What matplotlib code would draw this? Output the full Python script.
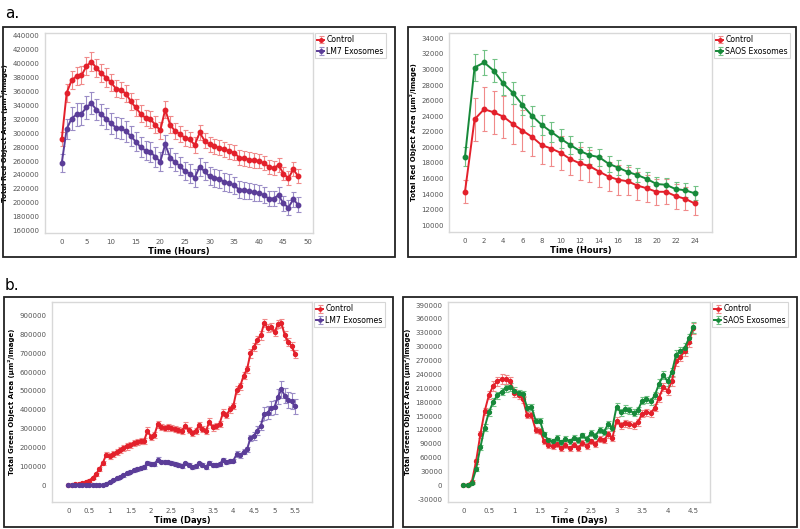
import matplotlib
matplotlib.use("Agg")
import matplotlib.pyplot as plt
import numpy as np
from matplotlib.patches import Rectangle

# ---- panel a, left: red object area, LM7 exosomes (hourly, 0-48 h)
hours_48 = list(range(49))
a1_control = [291000, 358000, 376000, 382000, 383000, 396000, 403000, 394000, 386000, 380000,
              373000, 364000, 362000, 357000, 346000, 337000, 328000, 322000, 320000, 312000,
              304000, 334000, 312000, 303000, 299000, 293000, 291000, 283000, 301000, 289000,
              284000, 281000, 279000, 277000, 274000, 272000, 265000, 264000, 262000, 261000,
              260000, 257000, 252000, 250000, 254000, 242000, 235000, 248000, 238000]
a1_control_err = [10000, 13000, 13000, 13000, 13000, 13000, 13000, 13000, 13000, 13000,
                  12000, 12000, 12000, 12000, 12000, 12000, 12000, 12000, 12000, 12000,
                  12000, 12000, 12000, 12000, 11000, 11000, 11000, 11000, 11000, 11000,
                  11000, 11000, 11000, 11000, 11000, 11000, 11000, 11000, 11000, 11000,
                  10000, 10000, 10000, 10000, 10000, 10000, 10000, 10000, 10000]
a1_lm7 = [257000, 306000, 321000, 327000, 328000, 337000, 343000, 334000, 327000, 321000,
          314000, 308000, 307000, 303000, 296000, 288000, 280000, 275000, 273000, 266000,
          259000, 284000, 265000, 258000, 253000, 245000, 242000, 236000, 252000, 245000,
          238000, 236000, 234000, 230000, 228000, 225000, 219000, 218000, 217000, 215000,
          214000, 211000, 206000, 206000, 211000, 199000, 193000, 205000, 197000]
a1_lm7_err = [13000, 15000, 16000, 16000, 16000, 16000, 16000, 15000, 15000, 15000,
              15000, 15000, 15000, 15000, 14000, 14000, 14000, 14000, 14000, 14000,
              14000, 14000, 13000, 13000, 13000, 13000, 13000, 13000, 13000, 13000,
              13000, 13000, 13000, 13000, 13000, 12000, 12000, 12000, 12000, 12000,
              12000, 12000, 11000, 11000, 11000, 11000, 11000, 11000, 11000]

# ---- panel a, right: red object area, SAOS exosomes (hourly, 0-24 h)
hours_24 = list(range(25))
a2_control = [14300, 23600, 24900, 24500, 23950, 23000, 22150, 21350, 20300, 19850,
              19300, 18500, 17950, 17600, 16900, 16250, 15850, 15650, 15100, 14750,
              14300, 14300, 13750, 13400, 12800]
a2_control_err = [1500, 2800, 2800, 2800, 2700, 2600, 2600, 2500, 2400, 2300,
                  2200, 2100, 2100, 2000, 2000, 1900, 1900, 1800, 1800, 1700,
                  1700, 1600, 1600, 1500, 1500]
a2_saos = [18800, 30250, 30900, 29850, 28200, 27000, 25450, 24050, 22900, 22000,
           21100, 20300, 19550, 19000, 18750, 17900, 17400, 16850, 16450, 15950,
           15300, 15200, 14650, 14500, 14100]
a2_saos_err = [1200, 1700, 1600, 1500, 1500, 1400, 1300, 1300, 1300, 1300,
               1200, 1200, 1100, 1100, 1100, 1000, 1000, 900, 900, 900,
               900, 900, 900, 900, 900]

# ---- panel b, left: green object area, LM7 exosomes (every 2 h, 0-5.5 days)
days_55 = [i / 12 for i in range(67)]
b1_control = [0, 2000, 4000, 7000, 9000, 14000, 24000, 38000, 58000, 85000,
              118000, 162000, 155000, 165000, 175000, 186000, 196000, 205000, 213000, 221000,
              229000, 236000, 234000, 288000, 258000, 266000, 323000, 308000, 305000, 306000,
              303000, 296000, 292000, 288000, 316000, 292000, 276000, 286000, 318000, 296000,
              286000, 336000, 306000, 316000, 326000, 384000, 372000, 402000, 420000, 506000,
              525000, 582000, 615000, 700000, 732000, 772000, 795000, 862000, 835000, 840000,
              812000, 855000, 862000, 795000, 762000, 738000, 695000]
b1_control_err = [3000, 3000, 3000, 4000, 4000, 5000, 6000, 7000, 8000, 10000,
                  12000, 14000, 14000, 14000, 15000, 15000, 15000, 16000, 16000, 16000,
                  16000, 16000, 16000, 18000, 16000, 16000, 18000, 16000, 16000, 16000,
                  16000, 16000, 16000, 16000, 18000, 16000, 16000, 16000, 18000, 16000,
                  16000, 18000, 16000, 16000, 16000, 18000, 16000, 18000, 18000, 20000,
                  20000, 20000, 20000, 22000, 22000, 22000, 22000, 22000, 20000, 20000,
                  20000, 22000, 22000, 22000, 22000, 22000, 22000]
b1_lm7 = [0, 1000, 2000, 2000, 3000, 3000, 3000, 2000, 1000, 1000,
          2000, 8000, 18000, 27000, 35000, 43000, 52000, 62000, 70000, 78000,
          86000, 92000, 95000, 118000, 110000, 112000, 135000, 125000, 123000, 120000,
          116000, 112000, 107000, 103000, 115000, 105000, 97000, 100000, 115000, 105000,
          97000, 117000, 106000, 108000, 112000, 133000, 124000, 128000, 130000, 165000,
          158000, 178000, 190000, 250000, 262000, 290000, 315000, 380000, 385000, 410000,
          415000, 470000, 508000, 475000, 450000, 445000, 420000]
b1_lm7_err = [3000, 3000, 3000, 3000, 3000, 3000, 3000, 3000, 3000, 3000,
              3000, 4000, 5000, 5000, 6000, 6000, 7000, 7000, 8000, 8000,
              9000, 9000, 10000, 12000, 10000, 10000, 12000, 10000, 10000, 10000,
              10000, 10000, 10000, 10000, 10000, 10000, 10000, 10000, 10000, 10000,
              10000, 10000, 10000, 10000, 10000, 12000, 10000, 10000, 10000, 14000,
              12000, 14000, 14000, 18000, 20000, 22000, 24000, 36000, 36000, 36000,
              36000, 40000, 45000, 40000, 42000, 42000, 40000]

# ---- panel b, right: green object area, SAOS exosomes (every 2 h, 0-4.5 days)
days_45 = [i / 12 for i in range(55)]
b2_control = [0, 1000, 8000, 52000, 110000, 160000, 195000, 215000, 225000, 230000,
              229000, 225000, 200000, 195000, 186000, 152000, 152000, 120000, 118000, 95000,
              87000, 85000, 90000, 80000, 87000, 80000, 88000, 81000, 92000, 85000,
              95000, 90000, 100000, 97000, 110000, 102000, 140000, 130000, 134000, 132000,
              130000, 136000, 155000, 158000, 156000, 168000, 190000, 213000, 205000, 225000,
              268000, 278000, 290000, 310000, 340000]
b2_control_err = [2000, 2000, 3000, 5000, 7000, 8000, 9000, 10000, 10000, 10000,
                  10000, 9000, 8000, 8000, 8000, 7000, 7000, 7000, 7000, 6000,
                  6000, 6000, 6000, 6000, 6000, 6000, 6000, 6000, 6000, 6000,
                  6000, 6000, 6000, 6000, 7000, 7000, 8000, 8000, 8000, 8000,
                  8000, 8000, 8000, 8000, 8000, 8000, 9000, 9000, 9000, 9000,
                  10000, 10000, 10000, 10000, 12000]
b2_saos = [0, 1000, 5000, 35000, 82000, 125000, 158000, 180000, 195000, 203000,
           210000, 213000, 205000, 200000, 198000, 168000, 170000, 140000, 140000, 110000,
           97000, 95000, 102000, 93000, 101000, 95000, 103000, 98000, 108000, 100000,
           113000, 107000, 120000, 115000, 132000, 124000, 170000, 158000, 165000, 162000,
           157000, 162000, 183000, 186000, 182000, 195000, 220000, 238000, 225000, 245000,
           283000, 290000, 297000, 318000, 342000]
b2_saos_err = [2000, 2000, 3000, 5000, 6000, 7000, 8000, 8000, 8000, 8000,
               8000, 8000, 8000, 7000, 7000, 7000, 7000, 6000, 6000, 6000,
               6000, 6000, 6000, 6000, 6000, 6000, 6000, 6000, 6000, 6000,
               6000, 6000, 6000, 6000, 7000, 7000, 8000, 8000, 8000, 8000,
               8000, 8000, 8000, 8000, 8000, 8000, 9000, 9000, 9000, 9000,
               10000, 10000, 10000, 10000, 12000]

RED, RED_ERR = "#e3202b", "#f08a8a"
PURPLE, PURPLE_ERR = "#5b3d98", "#9a8cc6"
GREEN, GREEN_ERR = "#17893a", "#72c285"
TICK_COL = "#555555"

fig = plt.figure(figsize=(8, 5.29), dpi=100)
W, H = 800, 529


def px_rect(x0, y0, x1, y1):
    # pixel box (top-left origin) -> figure fraction [left, bottom, width, height]
    return [x0 / W, 1 - y1 / H, (x1 - x0) / W, (y1 - y0) / H]


def frame(x0, y0, x1, y1):
    l, b, w, h = px_rect(x0, y0, x1, y1)
    fig.patches.append(Rectangle((l, b), w, h, transform=fig.transFigure,
                                 fill=False, edgecolor="#222222", linewidth=1.3))


def panel(box, x, series, xlim, ylim, xticks, xticklabels, yticks, xlabel, ylabel, ms=3.2):
    ax = fig.add_axes(px_rect(*box))
    for y, err, col, ecol, lab in series:
        ax.errorbar(x, y, yerr=err, color=col, ecolor=ecol, elinewidth=0.8,
                    capsize=1.8, capthick=0.8, lw=1.4, marker="o", ms=ms,
                    mec=col, label=lab)
    ax.set_xlim(*xlim)
    ax.set_ylim(*ylim)
    ax.set_xticks(xticks)
    ax.set_xticklabels(xticklabels)
    ax.set_yticks(yticks)
    ax.set_yticklabels([str(v) for v in yticks])
    ax.tick_params(length=0, labelsize=5.0, colors=TICK_COL, pad=4)
    for s in ax.spines.values():
        s.set_color("#d8d8d8")
        s.set_linewidth(1.0)
    ax.set_xlabel(xlabel, fontsize=6.0, fontweight="bold", labelpad=2)
    ax.set_ylabel(ylabel, fontsize=5.0, fontweight="bold", labelpad=3)
    leg = ax.legend(loc="upper left", bbox_to_anchor=(1.008, 1.0), fontsize=5.6,
                    frameon=True, fancybox=False, handlelength=0.8, handletextpad=0.35,
                    borderpad=0.3, labelspacing=0.3, borderaxespad=0.0, markerscale=0.8)
    leg.get_frame().set_edgecolor("#cccccc")
    leg.get_frame().set_linewidth(0.8)
    return ax


frame(3, 27, 395, 257)
frame(408, 27, 796, 257)
frame(4, 297, 393, 527)
frame(403, 297, 797, 527)

fig.text(5 / W, 1 - 14 / H, "a.", fontsize=11, va="center")
fig.text(5 / W, 1 - 285 / H, "b.", fontsize=11, va="center")

panel((45, 33, 313, 233), hours_48,
      [(a1_control, a1_control_err, RED, RED_ERR, "Control"),
       (a1_lm7, a1_lm7_err, PURPLE, PURPLE_ERR, "LM7 Exosomes")],
      (-3.4, 51), (156500, 444000),
      list(range(0, 51, 5)), [str(v) for v in range(0, 51, 5)],
      list(range(160000, 440001, 20000)),
      "Time (Hours)", "Total Red Object Area (µm²/Image)")

panel((449, 33, 712, 232), hours_24,
      [(a2_control, a2_control_err, RED, RED_ERR, "Control"),
       (a2_saos, a2_saos_err, GREEN, GREEN_ERR, "SAOS Exosomes")],
      (-1.67, 25.8), (9140, 34680),
      list(range(0, 25, 2)), [str(v) for v in range(0, 25, 2)],
      list(range(10000, 34001, 2000)),
      "Time (Hours)", "Total Red Object Area (µm²/Image)")

b_xt = [0, 0.5, 1, 1.5, 2, 2.5, 3, 3.5, 4, 4.5, 5, 5.5]
panel((52, 302, 312, 502), days_55,
      [(b1_control, b1_control_err, RED, RED_ERR, "Control"),
       (b1_lm7, b1_lm7_err, PURPLE, PURPLE_ERR, "LM7 Exosomes")],
      (-0.40, 5.91), (-90000, 973000),
      b_xt, ["0", "0.5", "1", "1.5", "2", "2.5", "3", "3.5", "4", "4.5", "5", "5.5"],
      list(range(0, 900001, 100000)),
      "Time (Days)", "Total Green Object Area (µm²/Image)", ms=2.8)

panel((448, 302, 710, 502), days_45,
      [(b2_control, b2_control_err, RED, RED_ERR, "Control"),
       (b2_saos, b2_saos_err, GREEN, GREEN_ERR, "SAOS Exosomes")],
      (-0.30, 4.83), (-36100, 396700),
      b_xt[:10], ["0", "0.5", "1", "1.5", "2", "2.5", "3", "3.5", "4", "4.5"],
      list(range(-30000, 390001, 30000)),
      "Time (Days)", "Total Green Object Area (µm²/Image)", ms=2.8)

fig.savefig("out.png", dpi=100)
